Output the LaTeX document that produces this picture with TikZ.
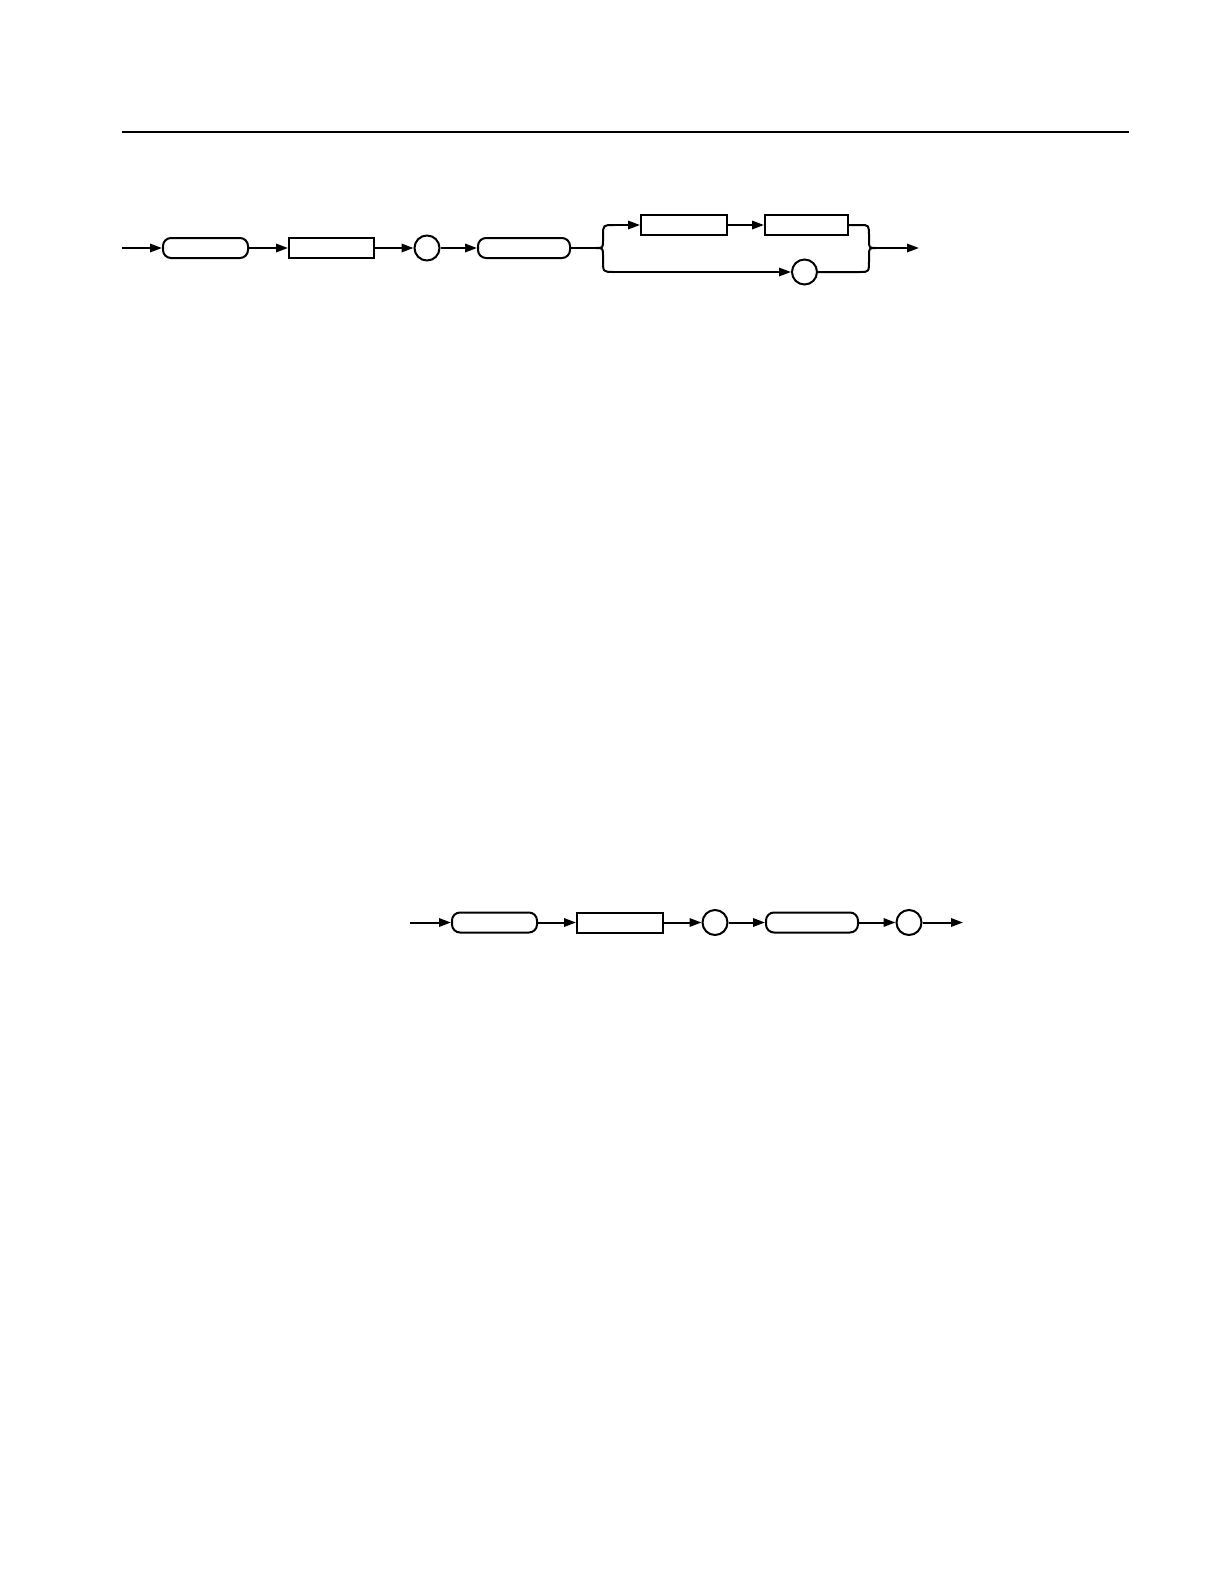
\documentclass[tikz,border=0pt]{standalone}
\usetikzlibrary{arrows.meta}
\tikzset{
  px/.style={x=0.5bp,y=-0.5bp},
  ln/.style={line width=1bp},
  arr/.style={ln,-{Triangle[length=6bp,width=4.2bp]}},
  rbox/.style={draw,ln,rounded corners=4bp,minimum height=10bp,inner sep=0pt},
  sbox/.style={draw,ln,minimum height=10bp,inner sep=0pt},
  cnode/.style={draw,ln,circle,minimum size=12.5bp,inner sep=0pt}
}
\begin{document}
\begin{tikzpicture}[px]
\useasboundingbox (0,0) rectangle (1224,1584);
% rule
\coordinate (r1) at (121.5,132);
\coordinate (r2) at (1129,132);
\draw[line width=0.7bp] (r1) -- (r2);
% top row
\coordinate (s1) at (121.5,248);
\node[rbox,minimum width=42.5bp] (t1) at (205.5,248) {};
\node[sbox,minimum width=42.5bp] (t2) at (331.5,248) {};
\node[cnode] (t3) at (427,248) {};
\node[rbox,minimum width=46bp] (t4) at (524,248) {};
\node[sbox,minimum width=43bp] (u1) at (684,225) {};
\node[sbox,minimum width=41.5bp] (u2) at (806.5,225) {};
\node[cnode] (u3) at (804.5,272) {};
\coordinate (lbt) at (596,248);
\coordinate (lbtop) at (614,225);
\coordinate (lbbot) at (614,272);
\coordinate (rbtop) at (860,225);
\coordinate (rbbot) at (860,272);
\coordinate (rbt) at (876,248);
\coordinate (e1) at (919,248);
\draw[arr] (s1) -- (t1);
\draw[arr] (t1) -- (t2);
\draw[arr] (t2) -- (t3);
\draw[arr] (t3) -- (t4);
\draw[ln] (t4) -- (lbt);
\draw[ln,line join=round] (lbtop) .. controls (603,225) .. (603,236) -- (603,240)
   .. controls (603,248) .. (lbt) .. controls (603,248) .. (603,256) -- (603,260)
   .. controls (603,272) .. (lbbot);
\draw[arr] (lbtop) -- (u1);
\draw[arr] (u1) -- (u2);
\draw[arr] (lbbot) -- (u3);
\draw[ln,line join=round] (u2.east) -- (rbtop) .. controls (869,225) .. (869,236) -- (869,240)
   .. controls (869,248) .. (rbt) .. controls (869,248) .. (869,256) -- (869,260)
   .. controls (869,272) .. (rbbot) -- (u3.east);
\draw[arr] (rbt) -- (e1);
% bottom row
\coordinate (s2) at (410,922.5);
\node[rbox,minimum width=42.5bp] (b1) at (494.5,922.5) {};
\node[sbox,minimum width=43bp] (b2) at (620,922.5) {};
\node[cnode] (b3) at (715,922.5) {};
\node[rbox,minimum width=46bp] (b4) at (812,922.5) {};
\node[cnode] (b5) at (909,922.5) {};
\coordinate (e2) at (963,922.5);
\draw[arr] (s2) -- (b1);
\draw[arr] (b1) -- (b2);
\draw[arr] (b2) -- (b3);
\draw[arr] (b3) -- (b4);
\draw[arr] (b4) -- (b5);
\draw[arr] (b5) -- (e2);
\end{tikzpicture}
\end{document}
